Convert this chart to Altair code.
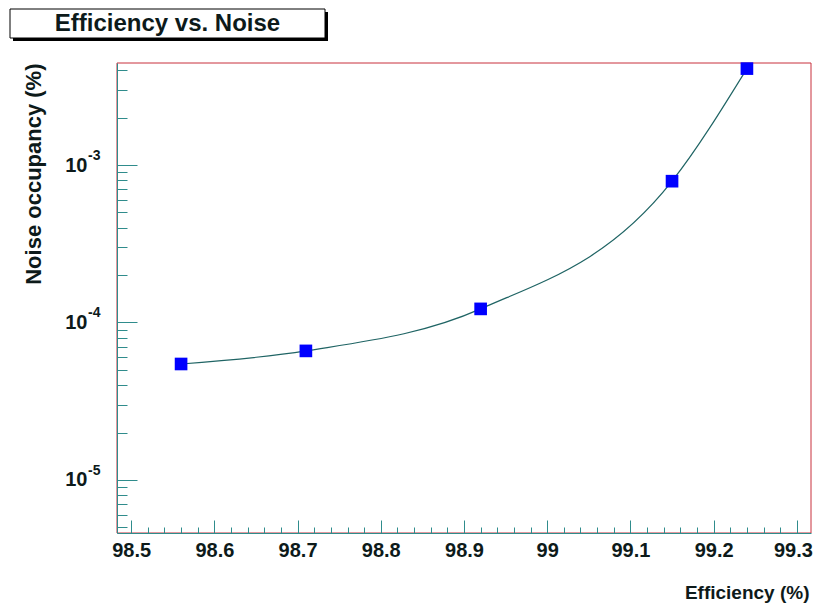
import altair as alt
import pandas as pd

# ---- data ----
efficiency = [98.56, 98.71, 98.92, 99.15, 99.24]
noise_occupancy = [5.45e-5, 6.6e-5, 1.22e-4, 7.9e-4, 4.1e-3]

x_domain = [98.483, 99.317]
y_domain = [4.6e-6, 4.45e-3]

x_major = [98.5, 98.6, 98.7, 98.8, 98.9, 99.0, 99.1, 99.2, 99.3]
x_minor = [round(98.5 + 0.02 * i, 2) for i in range(41)]
y_major = [1e-5, 1e-4, 1e-3]
y_exponents = ["-5", "-4", "-3"]
y_minor = [m * 10.0 ** e for e in (-6, -5, -4, -3) for m in range(2, 10)
           if y_domain[0] <= m * 10.0 ** e <= y_domain[1]]

title_text = "Efficiency vs. Noise"
x_title = "Efficiency (%)"
y_title = "Noise occupancy (%)"

# ---- style ----
FONT = "Liberation Sans"
TEXT_COLOR = "#0d1a1a"
AXIS_COLOR = "#2f8c8c"
FRAME_COLOR = "#c8303c"
W, H = 694, 470

df = pd.DataFrame({"eff": efficiency, "noise": noise_occupancy})
exp_df = pd.DataFrame({"v": y_major, "e": y_exponents})
title_df = pd.DataFrame({"t": [title_text]})

xs = alt.Scale(domain=x_domain, nice=False, zero=False)
ys = alt.Scale(type="log", domain=y_domain, nice=False)

base = alt.Chart(df)

main_x_axis = alt.Axis(
    orient="bottom", values=x_major, format="~g", ticks=False, grid=False,
    domain=True, domainColor=AXIS_COLOR, domainWidth=1, zindex=1,
    labelFont=FONT, labelFontWeight="bold", labelFontSize=20, labelColor=TEXT_COLOR,
    labelPadding=7,
    labelOffset={"condition": {"test": "datum.value > 99.25", "value": -4}, "value": 0},
    title=x_title, titleFont=FONT, titleFontWeight="bold",
    titleFontSize=19, titleColor=TEXT_COLOR, titleX=W - 2, titleY=59,
    titleAlign="right", titleBaseline="middle",
)
main_y_axis = alt.Axis(
    orient="left", values=y_major, labelExpr="'10'", ticks=False, grid=False,
    domain=True, domainColor=AXIS_COLOR, domainWidth=1, zindex=1,
    labelFont=FONT, labelFontWeight="bold", labelFontSize=20, labelColor=TEXT_COLOR,
    labelPadding=30, labelBaseline="middle",
    title=y_title, titleFont=FONT, titleFontWeight="bold", titleFontSize=22,
    titleColor=TEXT_COLOR, titleAngle=270, titleX=-84, titleY=0,
    titleAlign="right", titleBaseline="middle",
)

frame = alt.Chart(title_df).mark_rect(fill="#ffffff", stroke=FRAME_COLOR,
                                      strokeWidth=1).encode(
    x=alt.value(0), x2=alt.value(W), y=alt.value(0), y2=alt.value(H))

curve = base.mark_line(interpolate="monotone", color="#1f6464", strokeWidth=1.2).encode(
    x=alt.X("eff:Q", scale=xs, axis=main_x_axis),
    y=alt.Y("noise:Q", scale=ys, axis=main_y_axis),
)

points = base.mark_point(shape="square", filled=True, size=160, color="#0000ff",
                         opacity=1).encode(
    x=alt.X("eff:Q", scale=xs, axis=None),
    y=alt.Y("noise:Q", scale=ys, axis=None),
)

major_ticks = base.mark_point(opacity=0).encode(
    x=alt.X("eff:Q", scale=xs, axis=alt.Axis(
        orient="top", offset=-H, values=x_major, labels=False, domain=False,
        grid=False, tickSize=13, tickColor=AXIS_COLOR, tickWidth=1, title=None,
        zindex=1)),
    y=alt.Y("noise:Q", scale=ys, axis=alt.Axis(
        orient="right", offset=-W, values=y_major, labels=False, domain=False,
        grid=False, tickSize=20, tickColor=AXIS_COLOR, tickWidth=1, title=None,
        zindex=1)),
)

minor_ticks = base.mark_point(opacity=0).encode(
    x=alt.X("eff:Q", scale=xs, axis=alt.Axis(
        orient="top", offset=-H, values=x_minor, labels=False, domain=False,
        grid=False, tickSize=6, tickColor=AXIS_COLOR, tickWidth=1, title=None,
        zindex=1)),
    y=alt.Y("noise:Q", scale=ys, axis=alt.Axis(
        orient="right", offset=-W, values=y_minor, labels=False, domain=False,
        grid=False, tickSize=10, tickColor=AXIS_COLOR, tickWidth=1, title=None,
        zindex=1)),
)

exponents = alt.Chart(exp_df).mark_text(
    align="left", baseline="middle", dy=-9, font=FONT, fontWeight="bold",
    fontSize=14, color=TEXT_COLOR,
).encode(
    x=alt.value(-29),
    y=alt.Y("v:Q", scale=ys, axis=None),
    text="e:N",
)

title_shadow = alt.Chart(title_df).mark_rect(color="#000000").encode(
    x=alt.value(-104), x2=alt.value(211), y=alt.value(-51), y2=alt.value(-22))
title_box = alt.Chart(title_df).mark_rect(fill="#ffffff", stroke="#000000",
                                          strokeWidth=1).encode(
    x=alt.value(-107), x2=alt.value(208), y=alt.value(-54), y2=alt.value(-25))
title_label = alt.Chart(title_df).mark_text(
    font=FONT, fontWeight="bold", fontSize=24, color=TEXT_COLOR,
    align="center", baseline="middle",
).encode(x=alt.value(50.5), y=alt.value(-39), text="t:N")

chart = alt.layer(
    frame, minor_ticks, major_ticks, curve, points, exponents,
    title_shadow, title_box, title_label,
).resolve_axis(
    x="independent", y="independent"
).properties(
    width=W, height=H,
    autosize=alt.AutoSizeParams(type="none"),
    padding={"left": 109, "top": 55, "right": 2, "bottom": 70},
    background="#ffffff",
).configure_view(
    strokeWidth=0,
)

chart.save("out.html", embed_options={"renderer": "svg", "actions": False})
